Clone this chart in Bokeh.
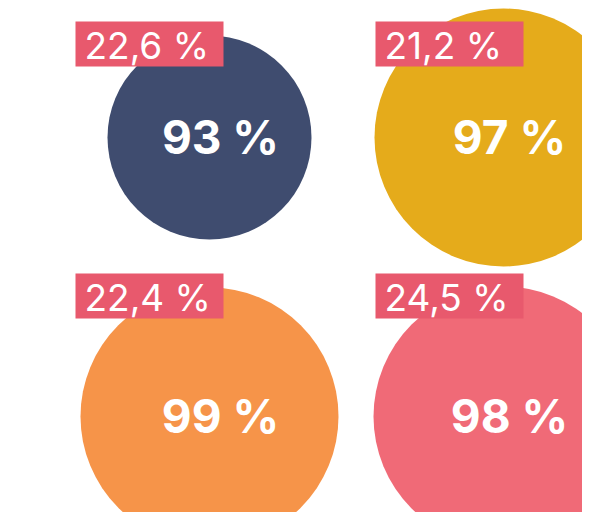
from bokeh.plotting import figure
from bokeh.models import Range1d, ColumnDataSource
from bokeh.embed import file_html
from bokeh.resources import INLINE
from bokeh.core.properties import value

# ---- data ----
shares = [93, 97, 99, 98]          # big value in each circle (%)
rates = [22.6, 21.2, 22.4, 24.5]   # value in the label box (%)

# ---- layout / style ----
cols = [0, 1, 0, 1]
rows = [0, 0, 1, 1]
colors = ["#3f4c6f", "#e5ab1b", "#f69449", "#f06a77"]
radii = [102, 129, 129, 130]
W, H = 582, 512
COL_X = [209, 503]
ROW_Y = [137, 416]
TEXT_X = [220, 509]
TEXT_Y = [136, 415]
LABEL_X = [75, 375]
LABEL_Y = [21, 273]
LABEL_W, LABEL_H = 148, 45
LABEL_COLOR = "#e8596d"


def fmt(v):
    return f"{v:.1f}".replace(".", ",") + " %"


src = ColumnDataSource(dict(
    cx=[COL_X[c] for c in cols],
    cy=[ROW_Y[r] for r in rows],
    size=[2 * r for r in radii],
    color=colors,
    tx=[TEXT_X[c] for c in cols],
    ty=[TEXT_Y[r] for r in rows],
    big=[f"{s} %" for s in shares],
    left=[LABEL_X[c] for c in cols],
    right=[LABEL_X[c] + LABEL_W for c in cols],
    top=[LABEL_Y[r] for r in rows],
    bottom=[LABEL_Y[r] + LABEL_H for r in rows],
    lx=[LABEL_X[c] + 9 for c in cols],
    ly=[LABEL_Y[r] + LABEL_H / 2 + 1 for r in rows],
    lab=[fmt(v) for v in rates],
))

p = figure(width=W, height=H, x_range=Range1d(0, W), y_range=Range1d(H, 0),
           toolbar_location=None, output_backend="svg", min_border=0,
           x_axis_type=None, y_axis_type=None)
p.grid.visible = False
p.outline_line_color = None
p.background_fill_color = "white"

p.scatter("cx", "cy", size="size", fill_color="color", line_color=None, source=src)
p.text("tx", "ty", text="big", text_color="white", text_font=value("Inter"),
       text_font_style="bold", text_font_size="46px", text_align="center",
       text_baseline="middle", source=src)
p.quad(left="left", right="right", top="top", bottom="bottom",
       fill_color=LABEL_COLOR, line_color=None, source=src)
p.text("lx", "ly", text="lab", text_color="white", text_font=value("Inter"),
       text_font_size="37px", text_align="left", text_baseline="middle", source=src)

open("out.html", "w").write(file_html(p, INLINE))
